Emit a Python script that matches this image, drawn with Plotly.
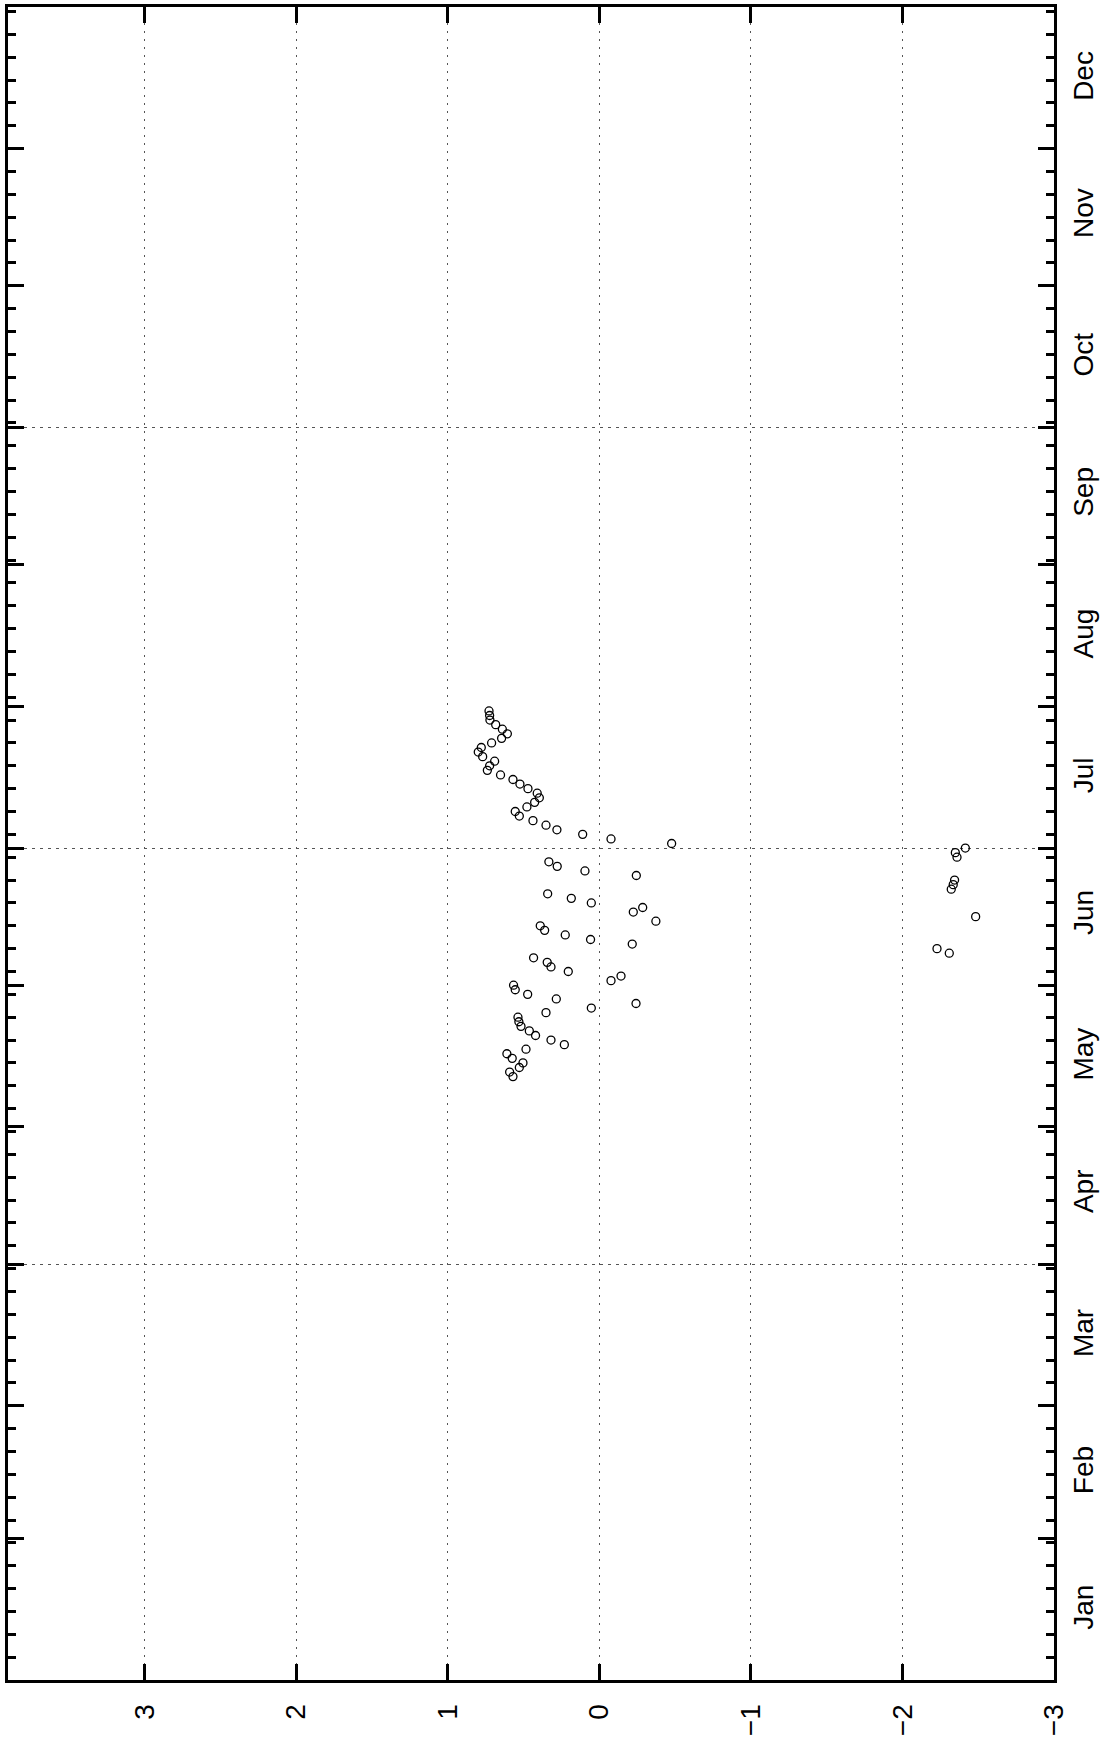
import plotly.graph_objects as go
from datetime import date, timedelta

# ---- data ----
start_date = "2000-05-12"   # first observation, daily series through 2000-07-31
values = [
    0.570, 0.592, 0.528, 0.504, 0.575, 0.610, 0.484, 0.231, 0.319, 0.421,
    0.462, 0.517, 0.531, 0.537, 0.352, 0.053, -0.242, 0.284, 0.473, 0.555,
    0.566, -0.077, -0.143, 0.205, 0.319, 0.344, 0.434, -2.309, -2.228, -0.217,
    0.058, 0.225, 0.361, 0.390, -0.373, -2.483, -0.224, -0.286, 0.053, 0.185,
    0.341, -2.322, -2.335, -2.344, -0.244, 0.095, 0.278, 0.333, -2.360, -2.349,
    -2.415, -0.477, -0.077, 0.110, 0.280, 0.352, 0.438, 0.528, 0.555, 0.478,
    0.427, 0.396, 0.410, 0.471, 0.524, 0.570, 0.652, 0.739, 0.724, 0.691,
    0.770, 0.799, 0.779, 0.711, 0.645, 0.607, 0.640, 0.684, 0.722, 0.724,
    0.728,
]
month_labels = ["Jan", "Feb", "Mar", "Apr", "May", "Jun",
                "Jul", "Aug", "Sep", "Oct", "Nov", "Dec"]
value_ticks = [-3, -2, -1, 0, 1, 2, 3]
value_ticktext = ["\u22123", "\u22122", "\u22121", "0", "1", "2", "3"]
grid_dates = ["2000-04-01", "2000-07-01", "2000-10-01"]
year = 2000

# ---- derived ----
d0 = date.fromisoformat(start_date)
dates = [(d0 + timedelta(days=i)).isoformat() for i in range(len(values))]
month_starts = [date(year, m, 1) for m in range(1, 13)] + [date(year + 1, 1, 1)]
month_mids = [(month_starts[i] + (month_starts[i + 1] - month_starts[i]) / 2).isoformat()
              for i in range(12)]
month_start_str = [d.isoformat() for d in month_starts]
yr_range = [f"{year}-01-01", f"{year + 1}-01-01"]

FONT = dict(family="Liberation Sans, Arial, sans-serif", size=28, color="black")

fig = go.Figure()
fig.add_trace(go.Scatter(
    x=values, y=dates, mode="markers",
    marker=dict(symbol="circle-open", size=8, color="black",
                line=dict(width=1.3, color="black")),
    showlegend=False, hoverinfo="skip",
))

fig.update_layout(
    width=1105, height=1740,
    margin=dict(l=8, r=51, t=4, b=60),
    paper_bgcolor="white", plot_bgcolor="white",
    font=FONT,
    xaxis=dict(
        range=[3.902, -3], tickmode="array", tickvals=value_ticks, ticktext=value_ticktext,
        tickangle=-90, ticks="inside", ticklen=16, tickwidth=2.5, tickcolor="black",
        ticklabelstandoff=10,
        showline=True, linewidth=3, linecolor="black", mirror="ticks",
        showgrid=True, gridcolor="#555", gridwidth=1.2, griddash="2px,6px",
        zeroline=False, tickfont=FONT,
    ),
    yaxis=dict(
        type="date", range=yr_range, tickmode="array", tickvals=month_start_str,
        ticks="inside", ticklen=16, tickwidth=2.5, tickcolor="black",
        showticklabels=False, showgrid=False, zeroline=False,
        showline=True, linewidth=3, linecolor="black", mirror="ticks",
        minor=dict(ticks="inside", ticklen=8, tickwidth=2.5, tickcolor="black",
                   tickmode="linear", tick0=f"{year}-01-01", dtick=5 * 86400000,
                   showgrid=False),
    ),
    yaxis2=dict(
        type="date", range=yr_range, overlaying="y", side="right",
        tickmode="array", tickvals=month_mids, ticktext=month_labels,
        tickangle=-90, ticks="", showgrid=False, zeroline=False, showline=False,
        ticklabelstandoff=10, tickfont=FONT,
    ),
    yaxis3=dict(
        type="date", range=yr_range, overlaying="y", side="left",
        tickmode="array", tickvals=grid_dates, ticks="", showticklabels=False,
        showgrid=True, gridcolor="#555", gridwidth=1.2, griddash="3px,5px",
        zeroline=False, showline=False,
    ),
)
# dummy traces to activate overlay axes
fig.add_trace(go.Scatter(x=[None], y=[None], yaxis="y2", showlegend=False, hoverinfo="skip"))
fig.add_trace(go.Scatter(x=[None], y=[None], yaxis="y3", showlegend=False, hoverinfo="skip"))

fig.write_html("out.html")
